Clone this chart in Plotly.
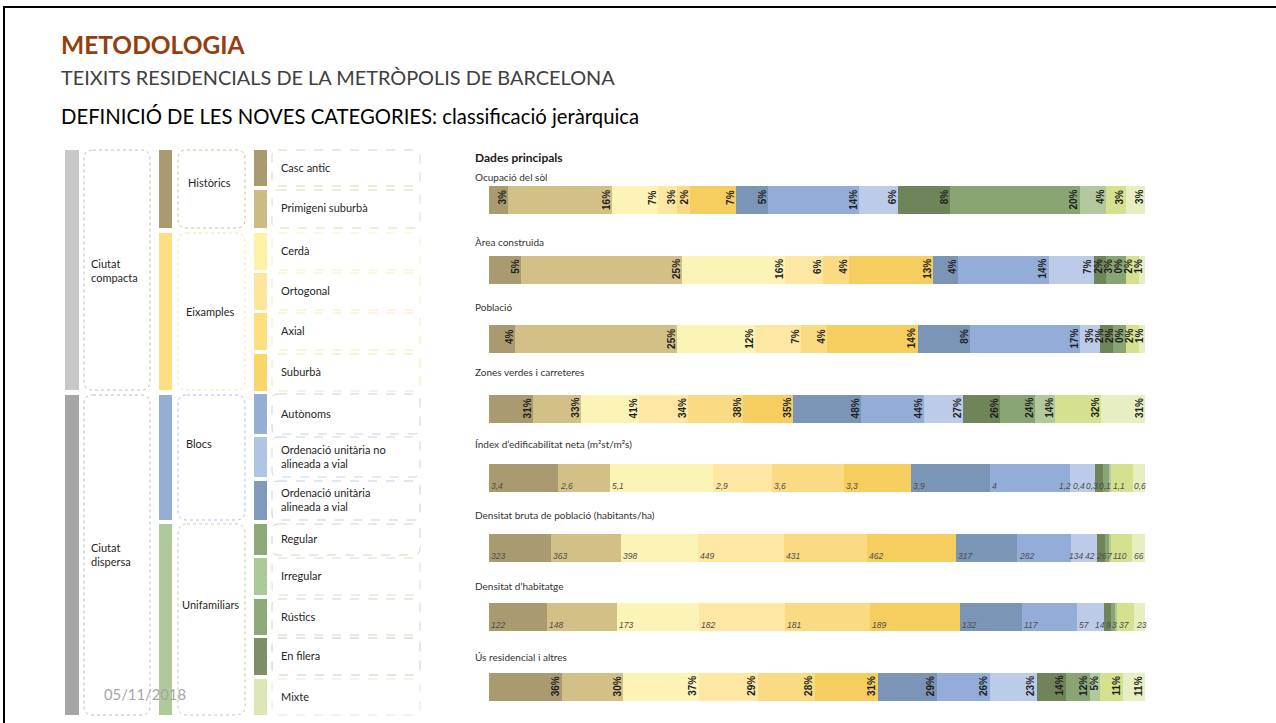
import plotly.graph_objects as go

W, H = 1276, 723

# ---------------- data ----------------
rows = ["Ocupació del sòl", "Àrea construida", "Població", "Zones verdes i carreteres",
        "Índex d’edificabilitat neta (m²st/m²s)", "Densitat bruta de població (habitants/ha)",
        "Densitat d’habitatge", "Ús residencial i altres"]
row_is_pct = [True, True, True, True, False, False, False, True]

segments = ["Casc antic", "Primigeni suburbà", "Cerdà", "Ortogonal", "Axial", "Suburbà",
            "Ordenació unitària alineada a vial", "Autònoms", "Ordenació unitària no alineada a vial",
            "En filera", "Regular", "Irregular", "Rústics", "Mixte"]

ocupacio = [3, 16, 7, 3, 2, 7, 5, 14, 6, 8, 20, 4, 3, 3]
area_construida = [5, 25, 16, 6, 4, 13, 4, 14, 7, 2, 3, 0, 2, 1]
poblacio = [4, 25, 12, 7, 4, 14, 8, 17, 3, 2, 2, 0, 2, 1]
zones_verdes = [31, 33, 41, 34, 38, 35, 48, 44, 27, 26, 24, 14, 32, 31]
index_edificabilitat = [3.4, 2.6, 5.1, 2.9, 3.6, 3.3, 3.9, 4, 1.2, 0.4, 0.3, 0.1, 1.1, 0.6]
densitat_poblacio = [323, 363, 398, 449, 431, 462, 317, 282, 134, 42, 26, 7, 110, 66]
densitat_habitatge = [122, 148, 173, 182, 181, 189, 132, 117, 57, 14, 9, 3, 37, 23]
us_residencial = [36, 30, 37, 29, 28, 31, 29, 26, 23, 14, 12, 5, 11, 11]

table = [ocupacio, area_construida, poblacio, zones_verdes, index_edificabilitat,
         densitat_poblacio, densitat_habitatge, us_residencial]

seg_colors = ["#A99B6F", "#D3C087", "#FBF4B6", "#FDE7A2", "#FADB83", "#F6CE60",
              "#7B95B6", "#93ADD8", "#BCCBE7", "#6F8459", "#89A574", "#B1C99C",
              "#D6E18F", "#E6EEC2"]

# hierarchy (left diagram)
level1 = ["Ciutat<br>compacta", "Ciutat<br>dispersa"]
level2 = ["Històrics", "Eixamples", "Blocs", "Unifamiliars"]
level3 = ["Casc antic", "Primigeni suburbà", "Cerdà", "Ortogonal", "Axial", "Suburbà",
          "Autònoms", "Ordenació unitària no<br>alineada a vial", "Ordenació unitària<br>alineada a vial",
          "Regular", "Irregular", "Rústics", "En filera", "Mixte"]

# ---------------- layout helpers (pixel -> paper) ----------------
def X(p):
    return p / W


def Y(p):
    return 1 - p / H


def rrect(x0, y0, x1, y1, r):
    return (f"M{X(x0+r)},{Y(y0)} L{X(x1-r)},{Y(y0)} Q{X(x1)},{Y(y0)} {X(x1)},{Y(y0+r)} "
            f"L{X(x1)},{Y(y1-r)} Q{X(x1)},{Y(y1)} {X(x1-r)},{Y(y1)} L{X(x0+r)},{Y(y1)} "
            f"Q{X(x0)},{Y(y1)} {X(x0)},{Y(y1-r)} L{X(x0)},{Y(y0+r)} Q{X(x0)},{Y(y0)} {X(x0+r)},{Y(y0)} Z")


shapes = []
annotations = []
FONT = "Lato"

# slide border
shapes.append(dict(type="path", xref="paper", yref="paper",
                   path=f"M{X(4)},{Y(723)} L{X(4)},{Y(7)} L{X(1276)},{Y(7)}",
                   line=dict(color="black", width=2)))

# titles
annotations += [
    dict(text="<b>METODOLOGIA</b>", x=X(59), y=Y(44), xref="paper", yref="paper",
         xanchor="left", yanchor="middle", showarrow=False,
         font=dict(family=FONT, size=24.5, color="#943F0F")),
    dict(text="TEIXITS RESIDENCIALS DE LA METRÒPOLIS DE BARCELONA", x=X(59), y=Y(77),
         xref="paper", yref="paper", xanchor="left", yanchor="middle", showarrow=False,
         font=dict(family=FONT, size=19.9, color="#404040")),
    dict(text="DEFINICIÓ DE LES NOVES CATEGORIES: classificació jeràrquica", x=X(59), y=Y(116),
         xref="paper", yref="paper", xanchor="left", yanchor="middle", showarrow=False,
         font=dict(family=FONT, size=20.3, color="#000000")),
]

# ---- left diagram ----
l1_geom = [(150, 390, "#C8C8C8", 270), (395, 715, "#A6A6A6", 554)]
for name, (y0, y1, col, ty) in zip(level1, l1_geom):
    shapes.append(dict(type="rect", xref="paper", yref="paper", x0=X(65), x1=X(79), y0=Y(y1), y1=Y(y0),
                       fillcolor=col, line=dict(width=0)))
    shapes.append(dict(type="path", xref="paper", yref="paper", path=rrect(84, y0, 150, y1, 9),
                       line=dict(color="#BDBDBD", width=1, dash="dot")))
    annotations.append(dict(text=name, x=X(89), y=Y(ty), xref="paper", yref="paper", xanchor="left",
                            yanchor="middle", align="left", showarrow=False,
                            font=dict(family=FONT, size=11, color="#262626")))

l2_geom = [(150, 228, "#A99B6F", "#CDBE98", 186, 182),
           (233, 390, "#FDDF82", "#F7E3A6", 184, 311),
           (395, 520, "#95AED6", "#AFC0E2", 184, 443),
           (524, 715, "#AFC99A", "#BCD0AB", 180, 604)]
for name, (y0, y1, col, bcol, tx, ty) in zip(level2, l2_geom):
    shapes.append(dict(type="rect", xref="paper", yref="paper", x0=X(159), x1=X(172), y0=Y(y1), y1=Y(y0),
                       fillcolor=col, line=dict(width=0)))
    shapes.append(dict(type="path", xref="paper", yref="paper", path=rrect(178, y0, 245, y1, 9),
                       line=dict(color=bcol, width=1, dash="dot")))
    annotations.append(dict(text=name, x=X(tx), y=Y(ty), xref="paper", yref="paper", xanchor="left",
                            yanchor="middle", showarrow=False,
                            font=dict(family=FONT, size=11, color="#262626")))

l3_geom = [(150, 186, "#A99B6F", "#DDD3B8"), (190, 228, "#CDBB85", "#E2D8BC"),
           (233, 270, "#FDF2A6", "#FAEFC4"), (273, 310, "#FDE59C", "#FAEBC2"),
           (313, 350, "#FDDF80", "#FAE8BA"), (354, 391, "#F9D56A", "#F8E4B0"),
           (394, 434, "#95AED6", "#C6D2EA"), (437, 477, "#B0C4E3", "#CAD5EC"),
           (481, 520, "#8199BC", "#C2CDE5"), (524, 555, "#8FA878", "#CBD8C0"),
           (558, 595, "#ADC998", "#D3E0C8"), (599, 635, "#8FA878", "#CBD8C0"),
           (638, 675, "#7E8F68", "#C6CFBC"), (679, 715, "#DCE6B8", "#E3EAD0")]
for name, (y0, y1, col, bcol) in zip(level3, l3_geom):
    shapes.append(dict(type="rect", xref="paper", yref="paper", x0=X(254), x1=X(267), y0=Y(y1), y1=Y(y0),
                       fillcolor=col, line=dict(width=0)))
    shapes.append(dict(type="path", xref="paper", yref="paper", path=rrect(272, y0, 420, y1, 6),
                       line=dict(color=bcol, width=1, dash="dash")))
    annotations.append(dict(text=name, x=X(279), y=Y((y0 + y1) / 2 - 1), xref="paper", yref="paper",
                            xanchor="left", yanchor="middle", align="left", showarrow=False,
                            font=dict(family=FONT, size=11, color="#262626")))

annotations.append(dict(text="05/11/2018", x=X(102), y=Y(694), xref="paper", yref="paper",
                        xanchor="left", yanchor="middle", showarrow=False,
                        font=dict(family=FONT, size=14.8, color="#A6A6A6")))

# ---- bar chart ----
BAR_X0, BAR_X1 = 489, 1145
PX = (BAR_X1 - BAR_X0) / 100.0          # pixels per axis unit
title_y_px = [177, 242, 307, 372, 444, 515, 586, 657]

norm = []
for vals in table:
    s = sum(vals)
    norm.append([100.0 * v / s for v in vals])

fig = go.Figure()
for j, seg in enumerate(segments):
    fig.add_trace(go.Bar(
        y=rows, x=[norm[r][j] for r in range(len(rows))], name=seg, orientation="h",
        marker=dict(color=seg_colors[j], line=dict(width=0)), width=0.403,
        hoverinfo="skip", showlegend=False))

annotations.append(dict(text="<b>Dades principals</b>", x=X(473), y=Y(157), xref="paper", yref="paper",
                        xanchor="left", yanchor="middle", showarrow=False,
                        font=dict(family=FONT, size=12, color="#1A1A1A")))


def pack(starts, widths, end, gap):
    """Shift label intervals (pixels) so they don't overlap and stay inside the bar."""
    pos = list(starts)
    n = len(pos)
    limit = end
    for i in range(n - 1, -1, -1):
        if pos[i] + widths[i] > limit:
            pos[i] = limit - widths[i]
        limit = pos[i] - gap
    for i in range(1, n):
        lo = pos[i - 1] + widths[i - 1] + gap
        if pos[i] < lo:
            pos[i] = lo
    return pos


ROT_W = 8.0
NUM_SIZE = 8.5
for r, row in enumerate(rows):
    annotations.append(dict(text=row, x=X(473), xref="paper", y=Y(title_y_px[r]), yref="paper",
                            xanchor="left", yanchor="middle", showarrow=False,
                            font=dict(family=FONT, size=10, color="#333333")))
    vals = table[r]
    cum_px, starts_px = [], []
    c = 0.0
    for j in range(len(vals)):
        starts_px.append(c * PX)
        c += norm[r][j]
        cum_px.append(c * PX)
    if row_is_pct[r]:
        left = [e - ROT_W - 2 for e in cum_px]
        pos = pack(left, [ROT_W] * len(vals), 100 * PX - 2, 2.0)
        for j, v in enumerate(vals):
            annotations.append(dict(text=f"<b>{v}%</b>", x=(pos[j] + ROT_W / 2) / PX, xref="x",
                                    y=row, yref="y", xanchor="center", yanchor="top", yshift=12,
                                    textangle=-90, showarrow=False, borderpad=0,
                                    font=dict(family="Liberation Sans", size=10, color="#1E1E1E")))
    else:
        labels = [f"{v:g}".replace(".", ",") for v in vals]
        widths = [sum(0.278 if ch == "," else 0.556 for ch in t) * NUM_SIZE for t in labels]
        pos = pack([s + 1 for s in starts_px], widths, 100 * PX, 1.5)
        for j, t in enumerate(labels):
            annotations.append(dict(text=t, x=pos[j] / PX, xref="x", y=row, yref="y",
                                    xanchor="left", yanchor="middle", yshift=-8,
                                    showarrow=False, borderpad=0,
                                    font=dict(family="Liberation Sans", size=NUM_SIZE, color="#4D4D4D",
                                              style="italic")))

fig.update_layout(
    width=W, height=H, margin=dict(l=0, r=0, t=0, b=0),
    paper_bgcolor="white", plot_bgcolor="white",
    barmode="stack", bargap=0,
    xaxis=dict(domain=[X(BAR_X0), X(BAR_X1)], range=[0, 100], visible=False, fixedrange=True),
    yaxis=dict(domain=[Y(718.2), Y(169.3)], type="category", categoryorder="array",
               categoryarray=rows, range=[7.45, -0.45], visible=False, fixedrange=True),
    shapes=shapes, annotations=annotations,
)

fig.write_html("out.html", config={"displayModeBar": False},
               post_script="document.body.style.margin='0px';")
